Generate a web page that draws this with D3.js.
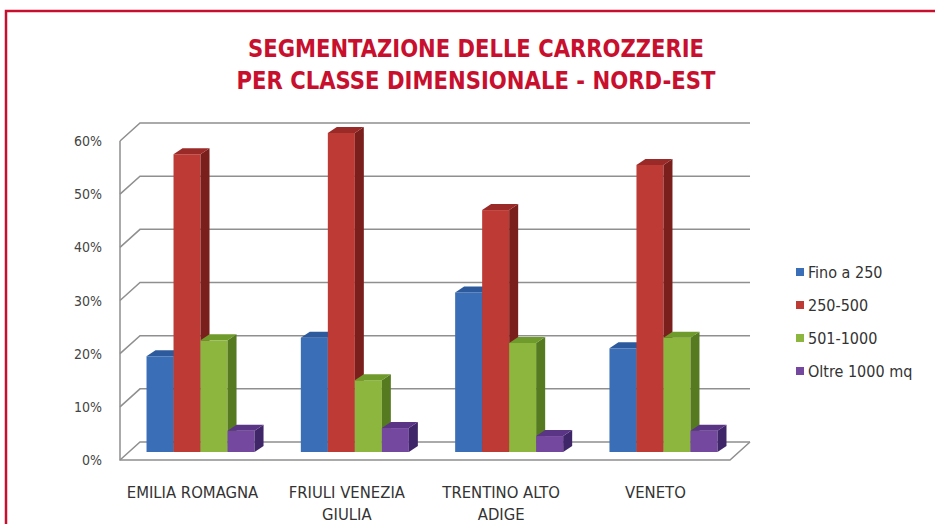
<!DOCTYPE html>
<html>
<head>
<meta charset="utf-8">
<script src="https://cdn.jsdelivr.net/npm/d3@7"></script>
<style>
  body { margin: 0; background: #fff; }
  text { font-family: "Liberation Sans Narrow", "DejaVu Sans Condensed", "Open Sans", sans-serif; font-stretch: condensed; }
</style>
</head>
<body>
<svg id="chart" width="935" height="524"></svg>
<script>
// Data
var categories = [["EMILIA ROMAGNA"], ["FRIULI VENEZIA", "GIULIA"], ["TRENTINO ALTO", "ADIGE"], ["VENETO"]];
var seriesNames = ["Fino a 250", "250-500", "501-1000", "Oltre 1000 mq"];
var fino250 = [18, 21.5, 30, 19.5];
var da250a500 = [56, 60, 45.5, 54];
var da501a1000 = [21, 13.5, 20.5, 21.5];
var oltre1000 = [4, 4.5, 3, 4];
var yTicks = [0, 10, 20, 30, 40, 50, 60];
var titleLines = ["SEGMENTAZIONE DELLE CARROZZERIE", "PER CLASSE DIMENSIONALE - NORD-EST"];

var seriesValues = [fino250, da250a500, da501a1000, oltre1000];
var fronts = ["#3a6fb8", "#bd3a35", "#8db63e", "#74489f"];
var sides = ["#1f4780", "#7a1f1c", "#557a20", "#3f2668"];
var tops = ["#2c5a9c", "#9a2a27", "#6f9a2c", "#5a3585"];

var svg = d3.select("#chart");

// red frame
svg.append("path")
  .attr("d", "M6,524 V11 H935")
  .attr("fill", "none")
  .attr("stroke", "#c8102e")
  .attr("stroke-width", 2.5);

// title
svg.selectAll(".title")
  .data(titleLines)
  .enter()
  .append("text")
  .attr("class", "title")
  .attr("x", 476)
  .attr("y", function(d, i) { return 57 + i * 32; })
  .attr("text-anchor", "middle")
  .attr("fill", "#c8102e")
  .attr("font-size", 25)
  .attr("font-weight", "bold")
  .attr("textLength", function(d, i) { return i === 0 ? 456 : 479; })
  .attr("lengthAdjust", "spacingAndGlyphs")
  .text(function(d) { return d; });

// 3d geometry
var depthX = 20, depthY = 18;
var frontLeft = 120, frontRight = 730;
var yFront = d3.scaleLinear().domain([0, 60]).range([460, 141]);
var yBar = d3.scaleLinear().domain([0, 60]).range([452, 133]);

var x = d3.scaleBand()
  .domain(d3.range(categories.length))
  .range([128, 736])
  .paddingInner(0.3)
  .paddingOuter(0.12);
var xSub = d3.scaleBand()
  .domain(d3.range(seriesNames.length))
  .range([0, x.bandwidth()]);

var grid = svg.append("g").attr("stroke", "#8f8f8f").attr("stroke-width", 1.5).attr("fill", "none");

// back wall gridlines + left wall diagonals
yTicks.forEach(function(t) {
  var yf = yFront(t);
  grid.append("path")
    .attr("d", "M" + frontLeft + "," + yf + " L" + (frontLeft + depthX) + "," + (yf - depthY) +
      " H" + (frontRight + depthX));
});
// front axis and floor edges
grid.append("path")
  .attr("d", "M" + frontLeft + "," + yFront(60) + " V" + yFront(0) + " H" + frontRight +
    " L" + (frontRight + depthX) + "," + (yFront(0) - depthY));

// y tick labels
svg.selectAll(".ytick")
  .data(yTicks)
  .enter()
  .append("text")
  .attr("class", "ytick")
  .attr("x", 102)
  .attr("y", function(d) { return yFront(d) + 5; })
  .attr("text-anchor", "end")
  .attr("font-size", 14)
  .attr("fill", "#444")
  .text(function(d) { return d + "%"; });

// bars
var bdx = 9, bdy = 6;
var bars = svg.append("g");
categories.forEach(function(c, ci) {
  seriesValues.forEach(function(vals, si) {
    var x0 = x(ci) + xSub(si);
    var w = xSub.bandwidth();
    var y0 = yBar(0);
    var y1 = yBar(vals[ci]);
    var g = bars.append("g");
    g.append("rect")
      .attr("x", x0).attr("y", y1)
      .attr("width", w).attr("height", y0 - y1)
      .attr("fill", fronts[si]);
    g.append("path")
      .attr("d", "M" + (x0 + w) + "," + y1 + " L" + (x0 + w + bdx) + "," + (y1 - bdy) +
        " V" + (y0 - bdy) + " L" + (x0 + w) + "," + y0 + "Z")
      .attr("fill", sides[si]);
    g.append("path")
      .attr("d", "M" + x0 + "," + y1 + " L" + (x0 + bdx) + "," + (y1 - bdy) +
        " H" + (x0 + w + bdx) + " L" + (x0 + w) + "," + y1 + "Z")
      .attr("fill", tops[si]);
  });
});

// category labels
var catLabels = svg.selectAll(".cat")
  .data(categories)
  .enter()
  .append("text")
  .attr("class", "cat")
  .attr("text-anchor", "middle")
  .attr("font-size", 16.5)
  .attr("fill", "#333");
catLabels.selectAll("tspan")
  .data(function(d, i) { return d.map(function(s) { return { s: s, i: i }; }); })
  .enter()
  .append("tspan")
  .attr("x", function(d) { return x(d.i) + x.bandwidth() / 2 - 8; })
  .attr("y", function(d, j) { return 498 + j * 22; })
  .text(function(d) { return d.s; });

// legend
var legend = svg.append("g").attr("transform", "translate(796,0)");
var rows = legend.selectAll("g")
  .data(seriesNames)
  .enter()
  .append("g")
  .attr("transform", function(d, i) { return "translate(0," + (272 + i * 33) + ")"; });
rows.append("rect")
  .attr("x", 0).attr("y", -4)
  .attr("width", 8).attr("height", 8)
  .attr("fill", function(d, i) { return fronts[i]; });
rows.append("text")
  .attr("x", 12).attr("y", 6)
  .attr("font-size", 16)
  .attr("fill", "#333")
  .text(function(d) { return d; });
</script>
</body>
</html>
